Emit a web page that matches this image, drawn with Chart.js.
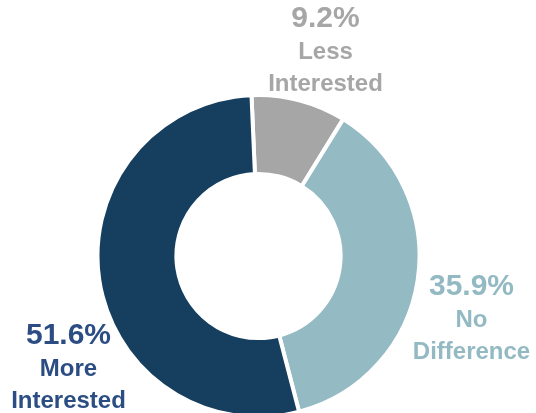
<!DOCTYPE html>
<html>
<head>
<meta charset="utf-8">
<script src="https://cdn.jsdelivr.net/npm/chart.js@4"></script>
<style>
  html, body { margin: 0; padding: 0; background: #ffffff; }
  #wrap { width: 536px; height: 413px; position: relative; }
</style>
</head>
<body>
<div id="wrap"><canvas id="interestChart"></canvas></div>
<script>
// Data
const categories = ['Less Interested', 'No Difference', 'More Interested'];
const labelLines = [['Less', 'Interested'], ['No', 'Difference'], ['More', 'Interested']];
const shares = [9.2, 35.9, 51.6];

// Colors
const sliceColors = ['#A6A6A6', '#94BAC4', '#163E5E'];
const textColors = ['#A6A6A6', '#93B9C3', '#2B4D83'];

// where each label block sits, relative to the doughnut centre
const labelSpots = [
    { dx: 67, dy: -229 },
    { dx: 213, dy: 39 },
    { dx: -190, dy: 88 }
];

const sliceLabels = {
    id: 'sliceLabels',
    afterDatasetsDraw(chart) {
        const ctx = chart.ctx;
        const arc = chart.getDatasetMeta(0).data[0];
        const cx = arc.x, cy = arc.y;
        ctx.save();
        ctx.textAlign = 'center';
        ctx.textBaseline = 'alphabetic';
        shares.forEach((v, i) => {
            const x = cx + labelSpots[i].dx;
            let y = cy + labelSpots[i].dy;
            ctx.fillStyle = textColors[i];
            ctx.font = 'bold 30px "Liberation Sans", Arial, sans-serif';
            ctx.fillText(v.toFixed(1) + '%', x, y);
            ctx.font = 'bold 24px "Liberation Sans", Arial, sans-serif';
            labelLines[i].forEach(line => {
                y += 32;
                ctx.fillText(line, x, y);
            });
        });
        ctx.restore();
    }
};

new Chart(document.getElementById('interestChart'), {
    type: 'doughnut',
    data: {
        labels: categories,
        datasets: [{
            data: shares,
            backgroundColor: sliceColors,
            borderColor: '#ffffff',
            borderWidth: 4,
            radius: 161,
            cutout: '51%',
            clip: false
        }]
    },
    options: {
        responsive: true,
        maintainAspectRatio: false,
        animation: false,
        rotation: -2.5,
        layout: { padding: { left: 0, right: 19, top: 99, bottom: 0 } },
        plugins: {
            legend: { display: false },
            tooltip: { enabled: false }
        }
    },
    plugins: [sliceLabels]
});
</script>
</body>
</html>
